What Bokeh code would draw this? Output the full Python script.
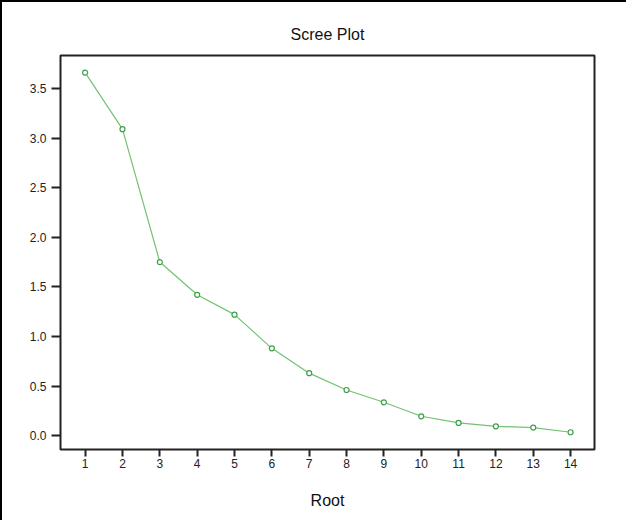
from bokeh.plotting import figure
from bokeh.models import Range1d, FixedTicker, CustomJSTickFormatter
from bokeh.embed import file_html
from bokeh.resources import INLINE

roots = [1, 2, 3, 4, 5, 6, 7, 8, 9, 10, 11, 12, 13, 14]
eigenvalues = [3.66, 3.09, 1.75, 1.42, 1.22, 0.88, 0.63, 0.46, 0.336, 0.195, 0.128, 0.094, 0.081, 0.034]
y_ticks = [0.0, 0.5, 1.0, 1.5, 2.0, 2.5, 3.0, 3.5]

FONT = "Liberation Sans"

p = figure(width=626, height=520, output_backend="svg", toolbar_location=None,
           x_range=Range1d(0.34, 14.64), y_range=Range1d(-0.14, 3.833),
           min_border_left=58, min_border_top=53, min_border_right=34, min_border_bottom=73,
           title="Scree Plot",
           styles={"border-left": "2px solid black", "border-top": "2px solid black"})

p.title.align = "center"
p.title.text_font = FONT
p.title.text_font_size = "16px"
p.title.text_font_style = "normal"
p.title.text_color = "#111111"
p.title.standoff = 26

p.outline_line_color = "#222222"
p.outline_line_width = 2
p.grid.visible = False
p.background_fill_color = "white"
p.border_fill_color = "white"

p.line(roots, eigenvalues, line_color="#72c272", line_width=1.2)
p.scatter(roots, eigenvalues, marker="circle", size=5, fill_color="white",
          line_color="#3f9e4a", line_width=1.2)

p.xaxis.ticker = FixedTicker(ticks=roots)
p.yaxis.ticker = FixedTicker(ticks=y_ticks)
p.yaxis.formatter = CustomJSTickFormatter(code="return tick.toFixed(1);")

for ax in (p.xaxis[0], p.yaxis[0]):
    ax.axis_line_color = None
    ax.major_tick_in = 0
    ax.minor_tick_line_color = None
    ax.major_tick_line_color = "#222222"
    ax.major_tick_line_width = 2
    ax.major_label_text_font = FONT
    ax.major_label_text_font_size = "12px"
    ax.major_label_text_color = "#222222"

p.xaxis.major_tick_out = 7
p.xaxis.major_label_standoff = 2
p.yaxis.major_tick_out = 9
p.yaxis.major_label_standoff = 5

p.xaxis.axis_label = "Root"
p.xaxis.axis_label_text_font = FONT
p.xaxis.axis_label_text_font_size = "16px"
p.xaxis.axis_label_text_font_style = "normal"
p.xaxis.axis_label_text_color = "#111111"
p.xaxis.axis_label_standoff = 21

open("out.html", "w").write(file_html(p, INLINE))
